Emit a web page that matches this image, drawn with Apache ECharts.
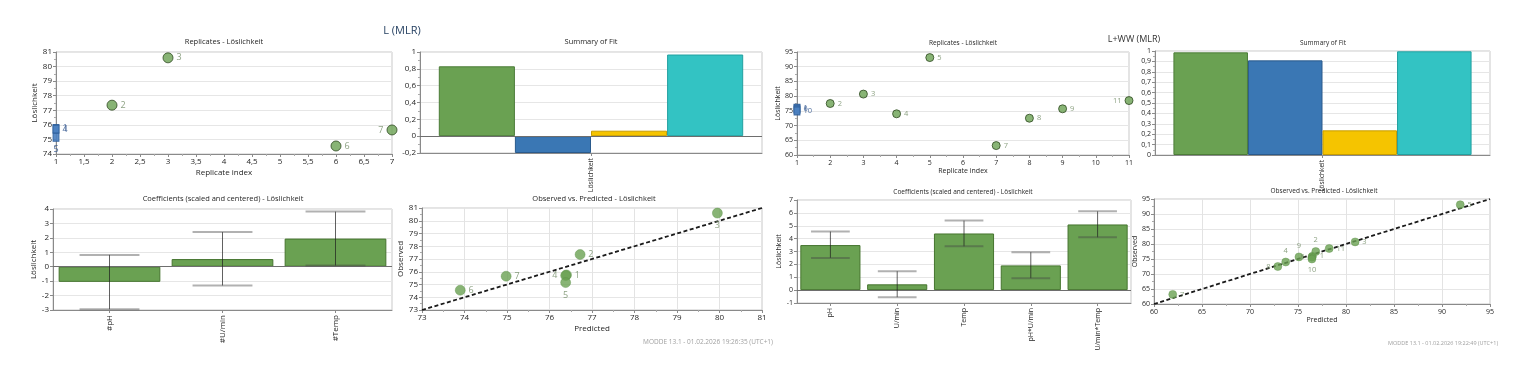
<!DOCTYPE html>
<html><head><meta charset="utf-8">
<script src="https://cdn.jsdelivr.net/npm/echarts@6/dist/echarts.min.js"></script>
<style>html,body{margin:0;padding:0;background:#fff}#c{width:1522px;height:377px}</style>
</head><body><div id="c"></div>
<script>
// ---------------- DATA: L (MLR) ----------------
const L_runs = ['1','2','3','4','5','6','7'];
const L_observed = [75.75, 77.35, 80.6, 75.7, 75.15, 74.55, 75.65];
const L_predicted = [76.4, 76.72, 79.95, 76.38, 76.38, 73.9, 74.98];
const L_replicateIndex = [1, 2, 3, 1, 1, 6, 7];
const L_fitNames = ['R2', 'Q2', 'Model validity', 'Reproducibility'];
const L_fitValues = [0.83, -0.2, 0.065, 0.97];
const L_terms = ['#pH', '#U/min', '#Temp'];
const L_coef = [-1.05, 0.53, 1.95];
const L_coefLow = [-2.95, -1.3, 0.08];
const L_coefHigh = [0.82, 2.4, 3.82];
const L_diagRange = [73, 81];

// ---------------- DATA: L+WW (MLR) ----------------
const W_runs = ['1','2','3','4','5','6','7','8','9','10','11'];
const W_observed = [75.9, 77.5, 80.7, 74.0, 93.1, 75.6, 63.2, 72.5, 75.7, 75.0, 78.5];
const W_predicted = [76.5, 76.85, 80.95, 73.72, 91.9, 76.45, 61.95, 72.9, 75.1, 76.45, 78.25];
const W_replicateIndex = [1, 2, 3, 4, 5, 1, 7, 8, 9, 1, 11];
const W_fitNames = ['R2', 'Q2', 'Model validity', 'Reproducibility'];
const W_fitValues = [0.987, 0.91, 0.237, 0.997];
const W_terms = ['pH', 'U/min', 'Temp', 'pH*U/min', 'U/min*Temp'];
const W_coef = [3.5, 0.45, 4.4, 1.92, 5.1];
const W_coefLow = [2.5, -0.55, 3.4, 0.92, 4.1];
const W_coefHigh = [4.55, 1.47, 5.4, 2.95, 6.12];
const W_diagRange = [60, 95];

// label placement (style only)
const L_repLabelPos = ['right','right','right','right','bottom','right','left'];
const L_obsLabelPos = ['right','right','bottom','left','bottom','right','right'];
const W_repLabelPos = ['right','right','right','right','right','right','right','right','right','right','left'];
const W_obsLabelPos = ['right','top','right','top','right','left','right','left','top','bottom','right'];

// ---------------- STYLE ----------------
const FONT = 'Open Sans';
const GREEN = '#6aa152', GREEN_D = '#46752f';
const FIT_COLORS = ['#6aa152', '#3a77b4', '#f5c400', '#33c3c3'];
const FIT_BORDERS = ['#4c7c38', '#2a5a8c', '#c89d00', '#22a0a0'];
const LBL = '#6f8a63';
const AX = '#8a8a8a';
const TXT = '#262626';
const comma = v => String(+(+v).toFixed(2)).replace('.', ',');

const grids = [
  {left: 56,   top: 52,  width: 336, height: 102},  // 0 L replicates
  {left: 420,  top: 52,  width: 342, height: 101},  // 1 L summary
  {left: 53,   top: 209, width: 339, height: 101},  // 2 L coef
  {left: 422,  top: 208, width: 340, height: 102},  // 3 L obs/pred
  {left: 797,  top: 52,  width: 332, height: 103},  // 4 W replicates
  {left: 1155, top: 51,  width: 335, height: 104},  // 5 W summary
  {left: 797,  top: 200, width: 334, height: 103},  // 6 W coef
  {left: 1154, top: 199, width: 336, height: 105}   // 7 W obs/pred
].map(g => Object.assign({show: true, borderColor: '#c9c9c9', borderWidth: 1, backgroundColor: '#fff'}, g));

function valAxis(gi, min, max, interval, fs, o) {
  o = o || {};
  return {
    type: 'value', gridIndex: gi, min, max, interval,
    name: o.name || '', nameLocation: 'middle', nameGap: o.nameGap || 14,
    nameTextStyle: {fontSize: fs, color: TXT, fontFamily: FONT},
    axisLine: {show: true, onZero: false, lineStyle: {color: AX}},
    axisTick: {show: true, length: 3, lineStyle: {color: AX}},
    minorTick: {show: o.minor !== false, splitNumber: 2, length: 2, lineStyle: {color: '#aaa'}},
    axisLabel: {fontSize: fs, color: TXT, fontFamily: FONT, margin: 4, formatter: comma},
    splitLine: {show: o.split !== false, lineStyle: {color: '#e6e6e6'}}
  };
}
function catAxis(gi, data, fs, o) {
  o = o || {};
  return {
    type: 'category', gridIndex: gi, data,
    axisLine: {show: true, onZero: false, lineStyle: {color: AX}},
    axisTick: {show: o.tick !== false, alignWithLabel: true, length: 3, lineStyle: {color: AX}},
    axisLabel: {fontSize: fs, color: TXT, fontFamily: FONT, rotate: 90, margin: 5},
    splitLine: {show: false}
  };
}

function repSeries(gi, runs, obs, rep, pos, size, fs) {
  const counts = {};
  rep.forEach(r => counts[r] = (counts[r] || 0) + 1);
  const green = [], blue = [];
  runs.forEach((n, i) => {
    const item = {value: [rep[i], obs[i], n], label: {position: pos[i]}};
    (counts[rep[i]] > 1 ? blue : green).push(item);
  });
  const lab = {show: true, formatter: p => p.data.value[2], fontSize: fs, fontFamily: FONT, color: LBL, distance: 3};
  return [
    {type: 'scatter', xAxisIndex: gi, yAxisIndex: gi, data: green, symbolSize: size,
     itemStyle: {color: GREEN, borderColor: '#2f4a22', borderWidth: 1}, label: lab, z: 5},
    {type: 'scatter', xAxisIndex: gi, yAxisIndex: gi, data: blue, symbol: 'rect', symbolSize: [6, 8],
     itemStyle: {color: '#4a7fc0', borderColor: '#2f5f9a', borderWidth: 1, opacity: 0.9},
     label: Object.assign({}, lab, {color: '#3d5f95'}), z: 6}
  ];
}

function obsSeries(gi, runs, obs, pred, pos, size, fs, diag) {
  return [
    {type: 'line', xAxisIndex: gi, yAxisIndex: gi, data: [[diag[0], diag[0]], [diag[1], diag[1]]],
     symbol: 'none', lineStyle: {color: '#1a1a1a', width: 1.8, type: [4, 2.5]}, z: 4, silent: true},
    {type: 'scatter', xAxisIndex: gi, yAxisIndex: gi, symbolSize: size,
     data: runs.map((n, i) => ({value: [pred[i], obs[i], n], label: {position: pos[i]}})),
     itemStyle: {color: GREEN, borderColor: '#5b8f45', borderWidth: 0.5},
     label: {show: true, formatter: p => p.data.value[2], fontSize: fs, fontFamily: FONT, color: LBL, distance: 3}, z: 5}
  ];
}

function fitSeries(gi, names, vals, zeroLine) {
  return names.map((n, i) => {
    const s = {type: 'bar', name: n, xAxisIndex: gi, yAxisIndex: gi, data: [vals[i]],
      barGap: '0%', barCategoryGap: '11%',
      itemStyle: {color: FIT_COLORS[i], borderColor: FIT_BORDERS[i], borderWidth: 1}};
    if (i === 0 && zeroLine) s.markLine = zeroMark();
    return s;
  });
}
function zeroMark() {
  return {silent: true, symbol: 'none', label: {show: false},
          lineStyle: {color: '#6e6e6e', width: 1, type: 'solid'}, data: [{yAxis: 0}]};
}
function errRender(capFrac) {
  return function (params, api) {
    const x = api.value(0), lo = api.value(1), hi = api.value(2);
    const a = api.coord([x, lo]), b = api.coord([x, hi]);
    const w = api.size([1, 0])[0] * capFrac;
    const cap = 'rgba(70,70,70,0.42)';
    return {type: 'group', children: [
      {type: 'line', shape: {x1: a[0], y1: a[1], x2: b[0], y2: b[1]}, style: {stroke: 'rgba(30,30,30,0.7)', lineWidth: 1}},
      {type: 'line', shape: {x1: b[0] - w / 2, y1: b[1], x2: b[0] + w / 2, y2: b[1]}, style: {stroke: cap, lineWidth: 2}},
      {type: 'line', shape: {x1: a[0] - w / 2, y1: a[1], x2: a[0] + w / 2, y2: a[1]}, style: {stroke: cap, lineWidth: 2}}
    ]};
  };
}
function coefSeries(gi, terms, coef, lo, hi, capFrac) {
  return [
    {type: 'bar', xAxisIndex: gi, yAxisIndex: gi, data: coef, barCategoryGap: '10%',
     itemStyle: {color: GREEN, borderColor: GREEN_D, borderWidth: 1}, markLine: zeroMark(), z: 2},
    {type: 'custom', xAxisIndex: gi, yAxisIndex: gi, renderItem: errRender(capFrac),
     data: terms.map((t, i) => [i, lo[i], hi[i]]), z: 6, silent: true}
  ];
}

const xAxes = [
  valAxis(0, 1, 7, 0.5, 8, {name: 'Replicate index', nameGap: 15, split: false}),
  catAxis(1, ['Löslichkeit'], 7),
  catAxis(2, L_terms, 8, {tick: true}),
  valAxis(3, L_diagRange[0], L_diagRange[1], 1, 8, {name: 'Predicted', nameGap: 15}),
  valAxis(4, 1, 11, 1, 7, {name: 'Replicate index', nameGap: 12, split: false}),
  catAxis(5, ['Löslichkeit'], 6.5),
  catAxis(6, W_terms, 7),
  valAxis(7, W_diagRange[0], W_diagRange[1], 5, 7, {name: 'Predicted', nameGap: 12})
];
const yAxes = [
  valAxis(0, 74, 81, 1, 8, {name: 'Löslichkeit', nameGap: 14}),
  valAxis(1, -0.2, 1, 0.2, 8, {}),
  valAxis(2, -3, 4, 1, 8, {name: 'Löslichkeit', nameGap: 10, minor: false}),
  valAxis(3, L_diagRange[0], L_diagRange[1], 1, 8, {name: 'Observed', nameGap: 12}),
  valAxis(4, 60, 95, 5, 7, {name: 'Löslichkeit', nameGap: 11}),
  valAxis(5, 0, 1, 0.1, 7, {}),
  valAxis(6, -1, 7, 1, 7, {name: 'Löslichkeit', nameGap: 10, minor: false}),
  valAxis(7, W_diagRange[0], W_diagRange[1], 5, 7, {name: 'Observed', nameGap: 10})
];
xAxes[3].splitLine = {show: true, lineStyle: {color: '#e3e3e3'}};
xAxes[7].splitLine = {show: true, lineStyle: {color: '#e3e3e3'}};

const series = [].concat(
  repSeries(0, L_runs, L_observed, L_replicateIndex, L_repLabelPos, 10, 9),
  fitSeries(1, L_fitNames, L_fitValues, true),
  coefSeries(2, L_terms, L_coef, L_coefLow, L_coefHigh, 0.53),
  obsSeries(3, L_runs, L_observed, L_predicted, L_obsLabelPos, 10, 9, L_diagRange),
  repSeries(4, W_runs, W_observed, W_replicateIndex, W_repLabelPos, 8, 7.5),
  fitSeries(5, W_fitNames, W_fitValues, false),
  coefSeries(6, W_terms, W_coef, W_coefLow, W_coefHigh, 0.58),
  obsSeries(7, W_runs, W_observed, W_predicted, W_obsLabelPos, 8, 7.5, W_diagRange)
);

function txt(x, y, s, fs, color, align) {
  return {type: 'text', x, y, silent: true,
    style: {text: s, fontSize: fs, fontFamily: FONT, fill: color || TXT, textAlign: align || 'center', textVerticalAlign: 'middle'}};
}
const graphic = [
  txt(402, 31, 'L (MLR)', 11, '#1e3a5c'),
  txt(1134, 39, 'L+WW (MLR)', 9, '#333'),
  txt(224, 42, 'Replicates - Löslichkeit', 7.5),
  txt(591, 42, 'Summary of Fit', 7.5),
  txt(223, 199, 'Coefficients (scaled and centered) - Löslichkeit', 7.5),
  txt(594, 199, 'Observed vs. Predicted - Löslichkeit', 7.5),
  txt(963, 43, 'Replicates - Löslichkeit', 6.5),
  txt(1323, 43, 'Summary of Fit', 6.5),
  txt(963, 192, 'Coefficients (scaled and centered) - Löslichkeit', 6.5),
  txt(1324, 191, 'Observed vs. Predicted - Löslichkeit', 6.5),
  txt(773, 342, 'MODDE 13.1 - 01.02.2026 19:26:35 (UTC+1)', 6.5, '#a0a0a0', 'right'),
  txt(1498, 343, 'MODDE 13.1 - 01.02.2026 19:22:49 (UTC+1)', 5.5, '#a0a0a0', 'right')
];

const chart = echarts.init(document.getElementById('c'), null, {renderer: 'canvas'});
chart.setOption({
  animation: false,
  backgroundColor: '#fff',
  grid: grids,
  xAxis: xAxes,
  yAxis: yAxes,
  series,
  graphic
});
</script></body></html>
